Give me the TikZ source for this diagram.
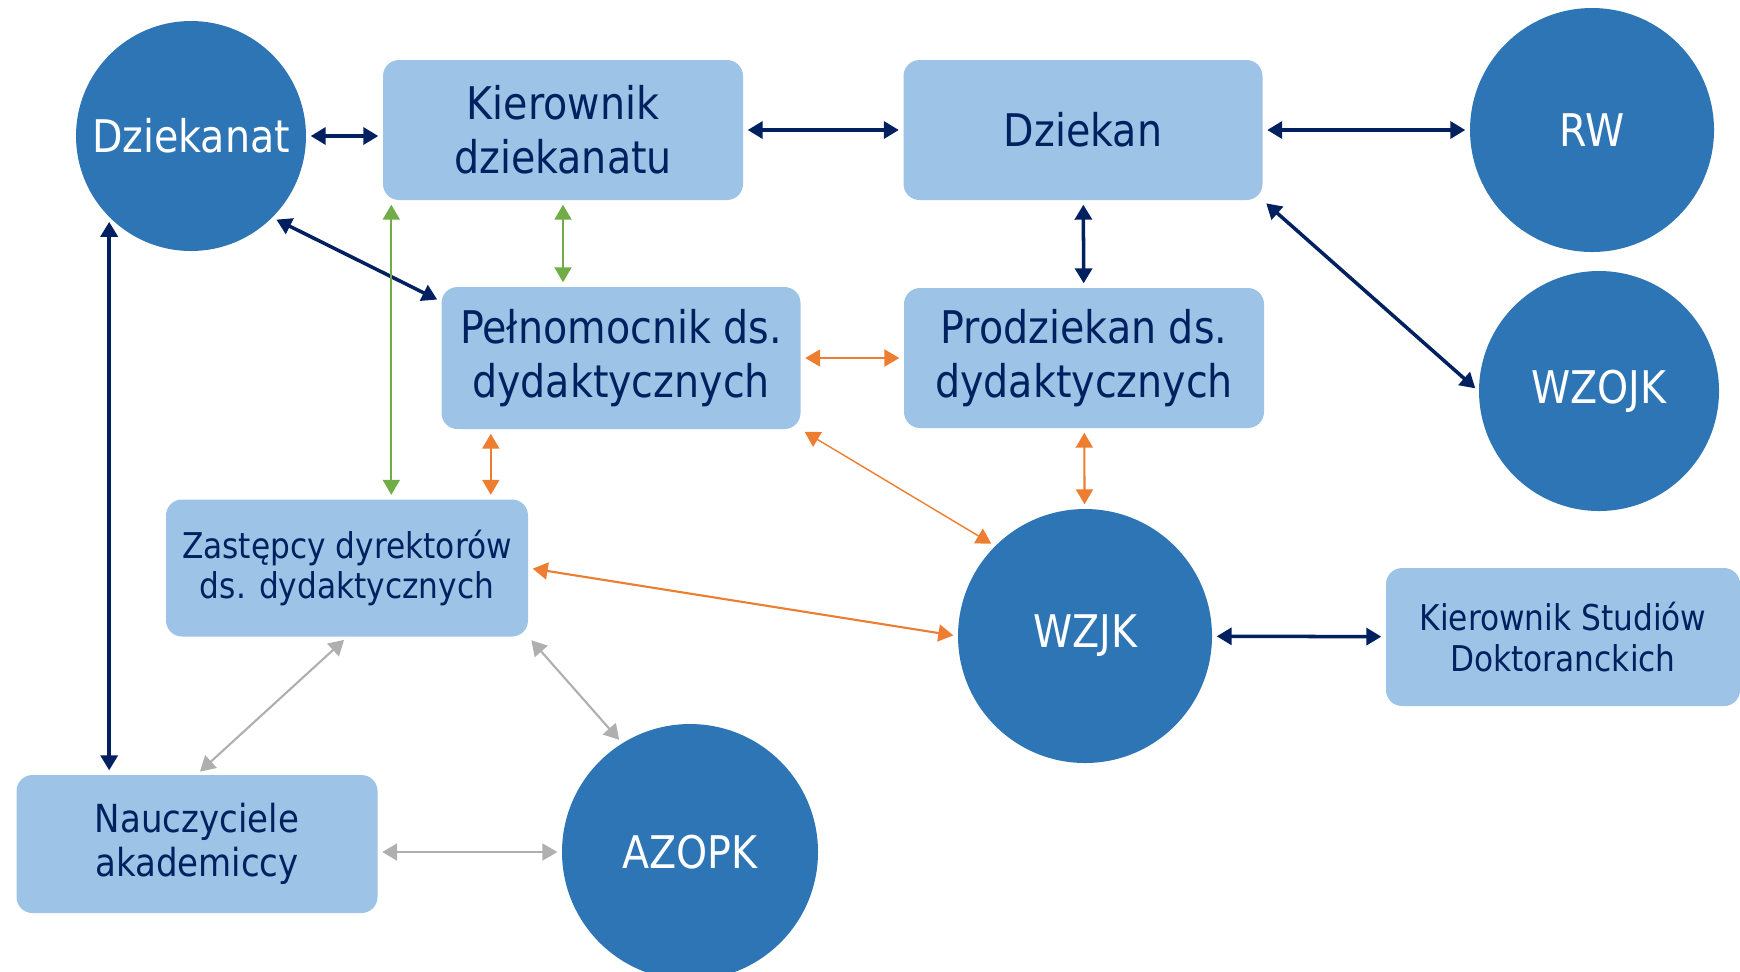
\documentclass[tikz,border=0pt]{standalone}
\usepackage{fontspec}
\setmainfont[FakeStretch=0.88]{DejaVu Sans}
\usetikzlibrary{arrows.meta}
\definecolor{circblue}{HTML}{2E75B6}
\definecolor{boxblue}{HTML}{9DC3E6}
\definecolor{navy}{HTML}{002060}
\definecolor{lgreen}{HTML}{70AD47}
\definecolor{lorange}{HTML}{ED7D31}
\definecolor{lgray}{HTML}{AFAFAF}

\begin{document}
\begin{tikzpicture}[x=0.1mm, y=-0.1mm,
	>={Triangle[length=1.5mm,width=1.7mm]},
	unit/.style={circle, fill=circblue, text=white, inner sep=0pt, font=\fontsize{12.8}{14.8}\selectfont},
	post/.style={rectangle, rounded corners=1.6mm, fill=boxblue, text=navy, align=center, inner sep=0pt, font=\fontsize{12.8}{15.4}\selectfont},
	smallpost/.style={post, font=\fontsize{10.1}{11.4}\selectfont},
	midpost/.style={post, font=\fontsize{11}{12.6}\selectfont},
	lnavy/.style={<->, navy, line width=1pt, shorten <=0.4mm, shorten >=0.4mm},
	lgrn/.style={<->, lgreen, line width=0.6pt, shorten <=0.4mm, shorten >=0.4mm},
	lorg/.style={<->, lorange, line width=0.6pt, shorten <=0.4mm, shorten >=0.4mm},
	lgry/.style={<->, lgray, line width=0.6pt, shorten <=0.4mm, shorten >=0.4mm}]
	\useasboundingbox (0,0) rectangle (1740,971);
	% circles
	\node[unit, minimum size=23mm] (dziekanat) at (191,136) {Dziekanat};
	\node[unit, minimum size=24.4mm] (rw) at (1592,130) {RW};
	\node[unit, minimum size=24mm] (wzojk) at (1599,391) {WZOJK};
	\node[unit, minimum size=25.4mm] (wzjk) at (1085,636) {WZJK};
	\node[unit, minimum size=25.6mm] (azopk) at (690,852) {AZOPK};
	% boxes
	\node[post, minimum width=36mm, minimum height=14mm] (kierdz) at (563,130) {Kierownik\\dziekanatu};
	\node[post, minimum width=35.9mm, minimum height=14mm] (dziekan) at (1083,130) {Dziekan};
	\node[post, minimum width=35.9mm, minimum height=14.2mm] (pelno) at (621,358) {Pełnomocnik ds.\\dydaktycznych};
	\node[post, minimum width=36mm, minimum height=14mm] (prodz) at (1084,358) {Prodziekan ds.\\dydaktycznych};
	\node[smallpost, minimum width=36.2mm, minimum height=13.7mm] (zast) at (347,568) {Zastępcy dyrektorów\\ds. dydaktycznych};
	\node[midpost, minimum width=36.1mm, minimum height=13.8mm] (nauc) at (197,844) {Nauczyciele\\akademiccy};
	\node[smallpost, minimum width=35.4mm, minimum height=13.8mm] (ksd) at (1563,637) {Kierownik Studiów\\Doktoranckich};
	% navy links
	\draw[lnavy] (dziekanat.east) -- (dziekanat.east -| kierdz.west);
	\draw[lnavy] (kierdz) -- (dziekan);
	\draw[lnavy] (dziekan) -- (rw);
	\draw[lnavy] (dziekan.south east) -- (wzojk.west);
	\draw[lnavy] (dziekan) -- (prodz);
	\draw[lnavy] (dziekanat.south east) -- ([yshift=-1.5mm]pelno.north west);
	\draw[lnavy] (dziekanat.south west) -- (dziekanat.south west |- nauc.north);
	\draw[lnavy] (wzjk) -- (ksd);
	% green links
	\draw[lgrn] ([xshift=0.9mm]kierdz.south west) -- ([xshift=0.9mm]kierdz.south west |- zast.north);
	\draw[lgrn] (kierdz.south) -- (kierdz.south |- pelno.north);
	% orange links
	\draw[lorg] (pelno) -- (prodz);
	\draw[lorg] ([xshift=5mm]pelno.south west) -- ([xshift=5mm]pelno.south west |- zast.north);
	\draw[lorg, line width=0.4pt] (pelno.south east) -- (wzjk.135);
	\draw[lorg] (prodz) -- (wzjk);
	\draw[lorg] (zast.east) -- (wzjk.west);
	% gray links
	\draw[lgry] (zast.south) -- (nauc.north);
	\draw[lgry] (zast.south east) -- (azopk.122);
	\draw[lgry] (nauc.east |- azopk.west) -- (azopk.west);
\end{tikzpicture}
\end{document}
